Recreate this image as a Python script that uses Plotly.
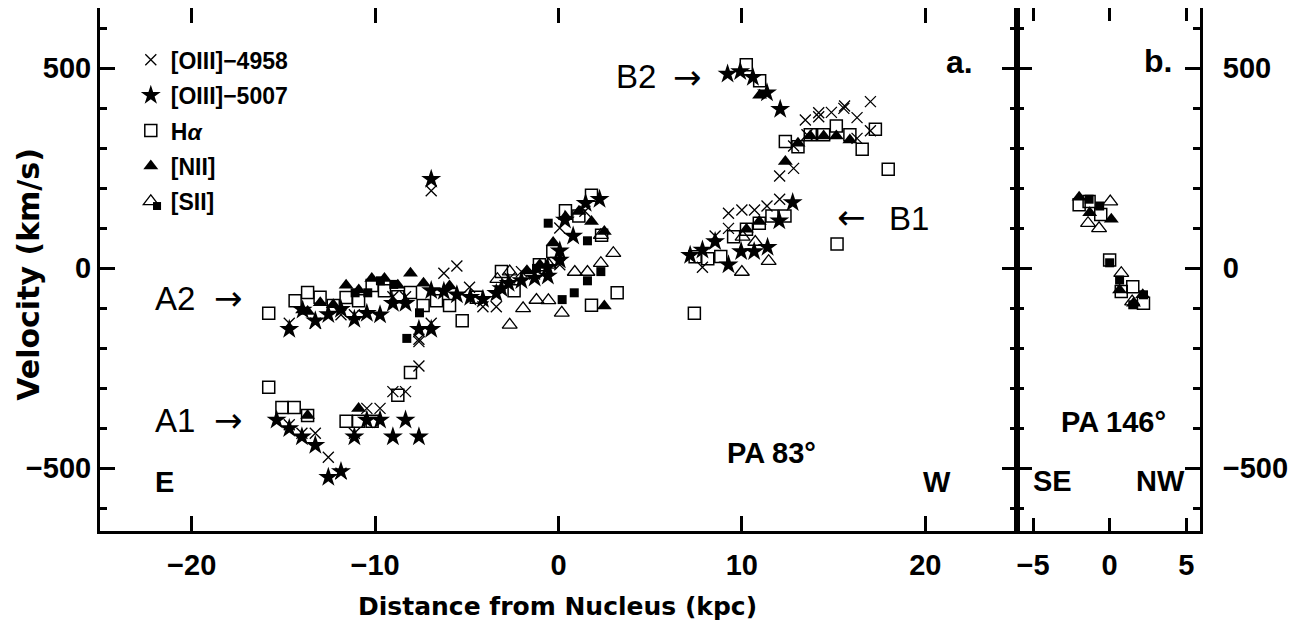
import plotly.graph_objects as go

# ================= Panel a : PA 83 deg =================
# [OIII]-4958 (crosses)
o4958_a_x = [-14.68, -13.99, -13.26, -12.55, -11.86, -11.13, -10.45, -9.73, -9.03, -8.34, -7.61, -7.61,
             -14.68, -13.26, -11.86, -11.13, -9.03, -8.34, -7.61, -6.94, -6.25, -5.54, -4.85, -4.12, -3.39,
             -2.02, -2.66, -1.30, -0.60, 0.07, 0.07, 1.44, -6.94,
             7.85, 8.54, 9.27, 9.27, 10.00, 10.69, 11.37, 12.06, 12.06, 12.82, 12.82,
             13.46, 14.19, 14.19, 14.88, 15.56, 15.60, 16.28, 17.01, 17.01, 16.28, 13.55]
o4958_a_y = [-392, -413, -413, -473, -513, -413, -351, -351, -309, -309, -245, -184,
             -138, -138, -117, -117, -72, -72, -178, -138, -13, 5, -48, -97, -97,
             -9, -25, -15, -2, 8, 100, 142, 193,
             2, 80, 99, 137, 145, 145, 155, 172, 230, 249, 305,
             370, 378, 388, 389, 399, 405, 376, 416, 343, 324, 333]

# [OIII]-5007 (stars)
o5007_a_x = [-15.37, -14.68, -13.99, -13.26, -12.55, -11.86, -11.13, -10.45, -9.73, -9.03, -8.34, -7.61,
             -14.68, -13.95, -13.26, -12.55, -11.86, -11.13, -10.45, -9.73, -9.03, -8.34, -7.61, -6.94,
             -6.94, -6.25, -5.54, -4.81, -4.12, -3.39, -3.11, -2.72, -2.02, -1.30, -0.58, -0.60,
             0.07, 0.07, 0.80, 1.48, 2.24, 0.35, -6.94,
             7.18, 7.85, 8.54, 9.27, 9.96, 10.67, 11.40, 12.04, 12.77,
             9.22, 9.91, 10.60, 11.37, 12.09]
o5007_a_y = [-380, -401, -422, -443, -523, -509, -422, -380, -380, -422, -380, -422,
             -153, -105, -132, -116, -103, -128, -113, -117, -88, -88, -153, -153,
             -56, -58, -67, -73, -78, -63, -51, -38, -31, -25, -20, 2,
             43, 20, 80, 162, 172, 120, 222,
             32, 45, 66, 8, 41, 41, 52, 118, 164,
             485, 491, 477, 438, 397]

# H-alpha (open squares)
ha_a_x = [-15.80, -14.36, -13.68, -13.00, -12.28, -11.58, -10.90, -10.16, -9.49, -8.76, -8.07, -7.38,
          -6.65, -5.94, -5.25, -4.48, -3.11, -2.42, -1.04, -0.31, 0.38, 1.11, 1.80, 2.35, 1.80, 3.20,
          -15.80, -15.08, -14.41, -13.68, -11.58, -10.90, -10.16, -8.76, -8.07,
          7.41, 7.45, 8.14, 8.85, 9.55, 10.25, 10.95, 11.64, 12.35, 15.19,
          10.24, 10.97, 12.37, 13.06, 13.73, 14.46, 15.15, 15.89, 16.56, 17.28, 17.98]
ha_a_y = [-113, -82, -61, -73, -94, -74, -82, -44, -57, -72, -61, -94,
          -82, -94, -132, -73, -9, -57, 8, 41, 143, 130, 182, 82, -93, -62,
          -298, -349, -349, -369, -383, -383, -383, -318, -261,
          -113, 28, 23, 29, 78, 97, 112, 130, 130, 60,
          508, 468, 316, 303, 333, 333, 355, 333, 297, 347, 247]

# [NII] (filled triangles)
nii_a_x = [-13.95, -13.68, -12.99, -12.28, -11.58, -10.89, -10.18, -9.49, -8.76, -8.07, -7.36, -5.94,
           -1.72, -1.02, -0.29, 0.38, 1.11, 1.80, 2.50, 2.50,
           -13.68, -10.90,
           10.25, 10.95, 10.97, 12.37, 13.06, 13.73, 14.46, 15.15, 15.89]
nii_a_y = [-105, -109, -87, -92, -43, -55, -26, -26, -43, -13, -38, -45,
           -7, 8, 64, 128, 141, 116, 91, -95,
           -369, -351,
           97, 116, 432, 266, 312, 330, 330, 330, 320]

# [SII] (open triangles + filled squares)
sii_open_a_x = [-3.33, -2.66, -2.66, -1.93, -1.20, -0.55, 0.18, 0.89, 1.58, 2.31, 2.99, 2.31,
                -0.53, 10.00, 10.73, 11.46, 10.04]
sii_open_a_y = [-28, -9, -142, -101, -80, -81, -112, -10, -10, 12, 37, 82,
                8, -10, 65, 17, 78]
sii_fill_a_x = [-11.09, -10.40, -9.71, -8.98, -7.58, -8.27, -0.56, 1.58, 0.20, 0.86, 1.58, 2.31, -1.20]
sii_fill_a_y = [-62, -62, -32, -41, -112, -176, 112, 68, -79, -62, -32, -9, -1]

# ================= Panel b : PA 146 deg =================
nii_b_x = [-1.99, -1.30, 0.11, 0.65, 1.56, 2.16]
nii_b_y = [177, 138, 122, -55, -88, -67]
ha_b_x = [-1.99, -1.34, -0.58, 0.00, 0.76, 1.51, 2.21]
ha_b_y = [158, 166, 134, 20, -59, -47, -88]
sii_fill_b_x = [-1.34, -0.65, 0.00, 0.65, 2.21, 1.51]
sii_fill_b_y = [172, 155, 13, -30, -67, -92]
sii_open_b_x = [0.04, -1.41, -0.69, 0.76, 1.47]
sii_open_b_y = [166, 112, 99, -13, -84]

# axis settings
XA_RANGE = [-25, 25]
XB_RANGE = [-6.05, 5.9]
Y_RANGE = [-657.5, 650]
XA_TICKS = [-20, -10, 0, 10, 20]
XB_TICKS = [-5, 0, 5]
Y_TICKS = [-500, 0, 500]

BLK = "black"

fig = go.Figure()


def add(x, y, xa, ya, name, symbol, size, group, showlegend, lw=0):
    fig.add_trace(go.Scatter(
        x=x, y=y, xaxis=xa, yaxis=ya, mode="markers", name=name,
        legendgroup=group, showlegend=showlegend,
        marker=dict(symbol=symbol, size=size, color=BLK,
                    line=dict(width=lw, color=BLK))))


# panel a
add(o4958_a_x, o4958_a_y, "x", "y", "[OIII]−4958", "x-thin", 11, "g1", True, 1.3)
add(o5007_a_x, o5007_a_y, "x", "y", "[OIII]−5007", "star", 15, "g2", True)
add(ha_a_x, ha_a_y, "x", "y", "H<i>α</i>", "square-open", 12, "g3", True, 1.5)
add(nii_a_x, nii_a_y, "x", "y", "[NII]", "triangle-up", 13, "g4", True)
add(sii_open_a_x, sii_open_a_y, "x", "y", "[SII]", "triangle-up-open", 13, "g5", True, 1.3)
add(sii_fill_a_x, sii_fill_a_y, "x", "y", "[SII]", "square", 9, "g5", False)
# panel b
add(ha_b_x, ha_b_y, "x2", "y2", "H<i>α</i>", "square-open", 12, "g3", False, 1.5)
add(nii_b_x, nii_b_y, "x2", "y2", "[NII]", "triangle-up", 13, "g4", False)
add(sii_open_b_x, sii_open_b_y, "x2", "y2", "[SII]", "triangle-up-open", 13, "g5", False, 1.3)
add(sii_fill_b_x, sii_fill_b_y, "x2", "y2", "[SII]", "square", 9, "g5", False)

tickfont = dict(family="Liberation Sans, Arial", size=29, color=BLK, weight="bold")
common_axis = dict(showline=True, linewidth=3, linecolor=BLK, mirror="ticks", ticks="inside",
                   tickwidth=3, tickcolor=BLK, showgrid=False, zeroline=False, tickfont=tickfont,
                   automargin=False)
yminor = dict(dtick=100, ticks="inside", ticklen=7, tickwidth=2.5, tickcolor=BLK, showgrid=False)

SPLIT = 0.8336
# page body has an 8px margin: figure is sized/offset so the frame lands at 100..1200 x 8..531
fig.update_layout(
    width=1301, height=626,
    margin=dict(l=92, r=109, t=0, b=103),
    plot_bgcolor="white", paper_bgcolor="white",
    font=dict(family="Liberation Sans, Arial", color=BLK),
    xaxis=dict(domain=[0, SPLIT], range=XA_RANGE, tickvals=XA_TICKS, ticklen=15, anchor="y",
               ticklabelstandoff=6, **common_axis),
    xaxis2=dict(domain=[SPLIT, 1], range=XB_RANGE, tickvals=XB_TICKS, ticklen=13, anchor="y2",
                ticklabelstandoff=6, **common_axis),
    yaxis=dict(range=Y_RANGE, tickvals=Y_TICKS, ticklen=15, anchor="x", minor=yminor,
               ticklabelstandoff=0, **common_axis),
    yaxis2=dict(range=Y_RANGE, tickvals=Y_TICKS, ticklen=15, anchor="x2", side="right",
                minor=yminor, ticklabelstandoff=14, **common_axis),
    showlegend=True,
    legend=dict(x=0.028, y=0.942, xanchor="left", yanchor="top", bgcolor="rgba(0,0,0,0)",
                font=dict(family="Liberation Sans, Arial", size=23, color=BLK, weight="bold"),
                traceorder="grouped", tracegroupgap=2.5, itemwidth=30),
)

# filled-square half of the [SII] legend key
fig.add_shape(type="rect", xref="paper", yref="paper", x0=0.0482, x1=0.0555, y0=0.6138, y1=0.6290,
              fillcolor=BLK, line=dict(width=0), layer="above")

# axis titles
fig.add_annotation(text="Velocity (km/s)", xref="paper", yref="paper", x=-0.0645, y=0.49,
                   xanchor="center", yanchor="middle", textangle=-90, showarrow=False,
                   font=dict(family="DejaVu Sans", size=30, weight="bold"))
fig.add_annotation(text="Distance from Nucleus (kpc)", xref="paper", yref="paper", x=0.416, y=-0.145,
                   xanchor="center", yanchor="middle", showarrow=False,
                   font=dict(family="DejaVu Sans", size=25, weight="bold"))

lab = dict(family="Liberation Sans, Arial", size=33)
arr = dict(family="DejaVu Sans", size=34)
bold = dict(family="Liberation Sans, Arial", size=29, weight="bold")


def note(text, x, y, xr, yr, font):
    fig.add_annotation(text=text, x=x, y=y, xref=xr, yref=yr, showarrow=False, font=font)


note("A2", -20.91, -75, "x", "y", lab)
note("→", -17.97, -75, "x", "y", arr)
note("A1", -20.91, -380, "x", "y", lab)
note("→", -17.97, -380, "x", "y", arr)
note("B2", 4.23, 480, "x", "y", lab)
note("→", 7.06, 477, "x", "y", arr)
note("B1", 19.11, 125, "x", "y", lab)
note("←", 16.0, 127, "x", "y", arr)
note("a.", 21.84, 515, "x", "y", dict(family="Liberation Sans, Arial", size=32, weight="bold"))
note("PA 83°", 11.64, -462, "x", "y", bold)
note("E", -21.51, -535, "x", "y", bold)
note("W", 20.63, -535, "x", "y", bold)
note("b.", 3.16, 518, "x2", "y2", dict(family="Liberation Sans, Arial", size=32, weight="bold"))
note("PA 146°", 0.22, -385, "x2", "y2", bold)
note("SE", -3.7, -532, "x2", "y2", bold)
note("NW", 3.29, -532, "x2", "y2", bold)

fig.write_html("out.html")
